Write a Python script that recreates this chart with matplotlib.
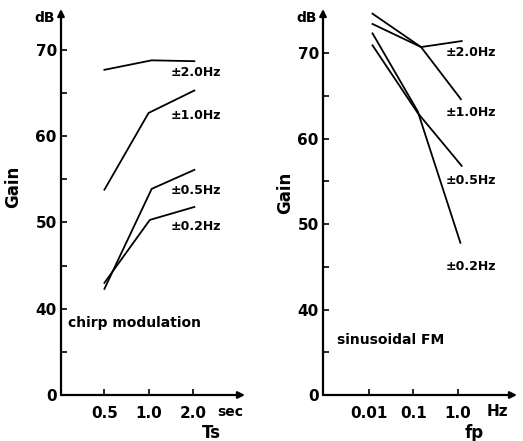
import matplotlib
matplotlib.use("Agg")
import matplotlib.pyplot as plt

# ---- data ----
series_labels = ["±2.0Hz", "±1.0Hz", "±0.5Hz", "±0.2Hz"]

# chirp modulation: gain vs sweep time Ts (sec)
chirp_ts = [
    [0.5, 1.05, 2.05],
    [0.5, 1.0, 2.05],
    [0.5, 1.05, 2.05],
    [0.5, 1.02, 2.05],
]
chirp_gain = [
    [67.7, 68.8, 68.7],
    [53.8, 62.7, 65.3],
    [42.3, 53.9, 56.1],
    [43.0, 50.3, 51.8],
]

# sinusoidal FM: gain vs modulation frequency fp (Hz)
fm_fp = [
    [0.012, 0.149, 1.23],
    [0.012, 0.149, 1.18],
    [0.012, 0.125, 1.23],
    [0.012, 0.125, 1.15],
]
fm_gain = [
    [73.4, 70.7, 71.4],
    [74.6, 70.7, 64.6],
    [70.9, 63.0, 56.8],
    [72.3, 63.2, 47.8],
]

# broken y axis: bottom tick "0" sits where 30 dB would be
y_major = [30, 40, 50, 60, 70]
y_major_labels = ["0", "40", "50", "60", "70"]
y_minor = [35, 45, 55, 65]

ts_ticks = [0.5, 1.0, 2.0]
ts_labels = ["0.5", "1.0", "2.0"]
fp_ticks = [0.01, 0.1, 1.0]
fp_labels = ["0.01", "0.1", "1.0"]

W, H = 523, 441
fig = plt.figure(figsize=(W / 100, H / 100), dpi=100)


def px(x, y):
    return x / W, 1 - y / H


def axes_px(x0, x1, ytop, ybot):
    return fig.add_axes([x0 / W, 1 - ybot / H, (x1 - x0) / W, (ybot - ytop) / H])


FW = "bold"
ax_l = axes_px(61, 245, 9, 395)
ax_r = axes_px(323, 517, 9, 395)

for ax in (ax_l, ax_r):
    for s in ax.spines.values():
        s.set_visible(False)
    ax.set_facecolor("none")
    for a, b in [((0, 0), (0, 1)), ((0, 0), (1, 0))]:
        ax.annotate("", xy=b, xytext=a, xycoords="axes fraction",
                    arrowprops=dict(arrowstyle="-|>", lw=1.6, color="k",
                                    shrinkA=0, shrinkB=0, mutation_scale=10))
    ax.set_yticks(y_major)
    ax.set_yticklabels(y_major_labels, fontsize=11, fontweight=FW)
    ax.set_yticks(y_minor, minor=True)
    ax.tick_params(axis="both", which="both", direction="in", length=4,
                   width=1.2, color="k")
    ax.tick_params(axis="y", which="both", pad=3)
    ax.tick_params(axis="x", which="both", pad=8)

# left panel
ax_l.set_xscale("log", base=2)
for xs, ys in zip(chirp_ts, chirp_gain):
    ax_l.plot(xs, ys, color="k", lw=1.3, clip_on=False)
ax_l.set_xlim(0.253, 4.54)
ax_l.set_ylim(30, 74.75)
ax_l.set_xticks(ts_ticks)
ax_l.set_xticklabels(ts_labels, fontsize=11, fontweight=FW)
ax_l.xaxis.set_minor_locator(matplotlib.ticker.NullLocator())

# right panel
ax_r.set_xscale("log")
for xs, ys in zip(fm_fp, fm_gain):
    ax_r.plot(xs, ys, color="k", lw=1.3, clip_on=False)
ax_r.set_xlim(0.000918, 21.7)
ax_r.set_ylim(30, 75.15)
ax_r.set_xticks(fp_ticks)
ax_r.set_xticklabels(fp_labels, fontsize=11, fontweight=FW)
ax_r.xaxis.set_minor_locator(matplotlib.ticker.NullLocator())

# series labels
for lab, y in zip(series_labels, [73, 116, 191, 227]):
    fig.text(*px(171, y), lab, fontsize=9, fontweight=FW, ha="left", va="center")
for lab, y in zip(series_labels, [53, 112, 180, 267]):
    fig.text(*px(446, y), lab, fontsize=9, fontweight=FW, ha="left", va="center")

# axis titles and units
fig.text(*px(13, 187), "Gain", fontsize=12, fontweight=FW, rotation=90,
         ha="center", va="center")
fig.text(*px(285, 193), "Gain", fontsize=12, fontweight=FW, rotation=90,
         ha="center", va="center")
fig.text(*px(55, 18), "dB", fontsize=10, fontweight=FW, ha="right", va="center")
fig.text(*px(317, 18), "dB", fontsize=10, fontweight=FW, ha="right", va="center")
fig.text(*px(230, 412), "sec", fontsize=10, fontweight=FW, ha="center", va="center")
fig.text(*px(211, 433), "Ts", fontsize=12, fontweight=FW, ha="center", va="center")
fig.text(*px(497, 412), "Hz", fontsize=11, fontweight=FW, ha="center", va="center")
fig.text(*px(474, 433), "fp", fontsize=12, fontweight=FW, ha="center", va="center")

fig.text(*px(68, 323), "chirp modulation", fontsize=10, fontweight=FW,
         ha="left", va="center")
fig.text(*px(337, 340), "sinusoidal FM", fontsize=10, fontweight=FW,
         ha="left", va="center")

fig.savefig("out.png", dpi=100)
